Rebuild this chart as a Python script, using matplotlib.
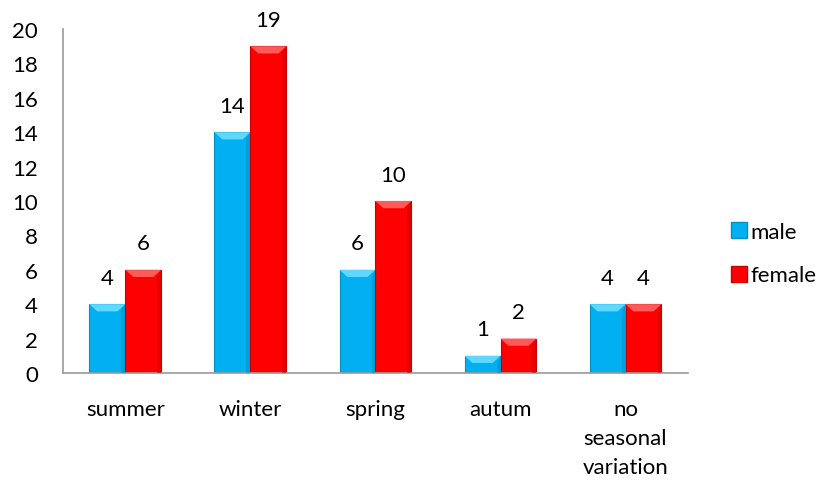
import matplotlib
matplotlib.use("Agg")
import matplotlib.pyplot as plt
from matplotlib.patches import Polygon
from matplotlib.lines import Line2D
import numpy as np

categories = ["summer", "winter", "spring", "autum", "no\nseasonal\nvariation"]
male = [4, 14, 6, 1, 4]
female = [6, 19, 10, 2, 4]
series_names = ["male", "female"]
yticks = list(range(0, 21, 2))

plt.rcParams['font.family'] = ['Lato', 'DejaVu Sans']
FS = 16

fig = plt.figure(figsize=(8.27, 4.85), dpi=100)
ax = fig.add_axes([0.076, 0.229, 0.756, 0.709])

x = np.arange(len(categories))
w = 0.2875
colors = ["#00B0F0", "#FF0000"]
tops = ["#5FD8FF", "#FF5A5A"]
sides = ["#0090C8", "#C80000"]

def bevel_bar(xc, h, face, top, side):
    bars = ax.bar(xc, h, width=w, color=face, edgecolor=side, linewidth=0.8, zorder=2)
    b = bars[0]
    x0, x1 = b.get_x(), b.get_x() + b.get_width()
    dx = w * 0.22
    dy = min(0.42, h * 0.45)
    ax.add_patch(Polygon([(x0, h), (x1, h), (x1 - dx, h - dy), (x0 + dx, h - dy)],
                         closed=True, facecolor=top, edgecolor="none", zorder=3))
    ax.add_patch(Polygon([(x1, h), (x1, 0), (x1 - dx * 0.5, 0), (x1 - dx * 0.5, h - dy)],
                         closed=True, facecolor=side, edgecolor="none", alpha=0.5, zorder=3))

for i in range(len(categories)):
    bevel_bar(x[i] - w / 2, male[i], colors[0], tops[0], sides[0])
    bevel_bar(x[i] + w / 2, female[i], colors[1], tops[1], sides[1])
    ax.text(x[i] - w / 2, male[i] + 0.95, str(male[i]), ha="center", va="bottom", fontsize=FS)
    ax.text(x[i] + w / 2, female[i] + 0.95, str(female[i]), ha="center", va="bottom", fontsize=FS)

ax.set_xlim(-0.5, len(categories) - 0.5)
ax.set_ylim(0, 20)
ax.set_yticks(yticks)
ax.set_xticks(x)
ax.set_xticklabels(categories, fontsize=FS, linespacing=1.55, va="top")
ax.tick_params(axis="y", labelsize=FS, length=0, pad=18)
ax.tick_params(axis="x", length=0, pad=19)

for s in ["top", "right"]:
    ax.spines[s].set_visible(False)
ax.spines["left"].set_color("#9A9A9A")
ax.spines["bottom"].set_color("#9A9A9A")
ax.spines["left"].set_linewidth(1.2)
ax.spines["bottom"].set_linewidth(1.2)

handles = [Line2D([0], [0], marker="s", linestyle="none", markersize=11,
                  markerfacecolor=c, markeredgecolor=sc) for c, sc in zip(colors, sides)]
fig.legend(handles, series_names, loc="center left", bbox_to_anchor=(0.86, 0.475),
           frameon=False, fontsize=FS, handletextpad=0.15, labelspacing=1.05,
           handlelength=0.7)

fig.savefig("out.png", dpi=100)
